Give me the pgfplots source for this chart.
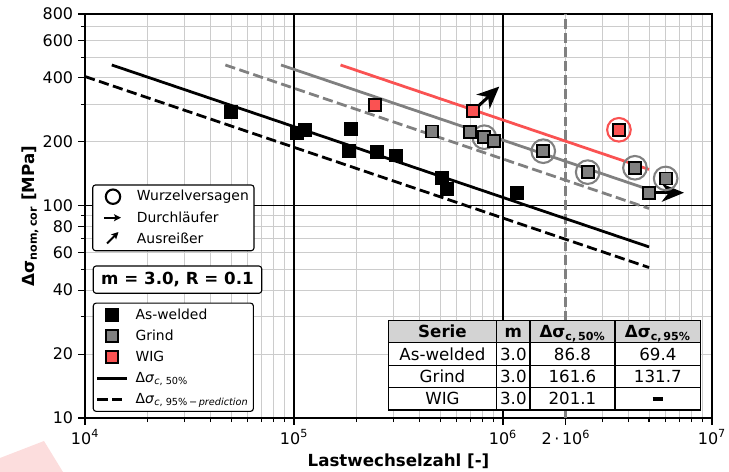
\documentclass[border=0pt]{standalone}
\usepackage{fontspec}
\setmainfont{DejaVu Sans}
\usepackage{pgfplots}
\pgfplotsset{compat=1.18}
\usetikzlibrary{arrows.meta}
\definecolor{gridgray}{RGB}{204,204,204}
\definecolor{lgray}{RGB}{128,128,128}
\definecolor{wigred}{RGB}{250,82,82}
\definecolor{hdr}{RGB}{211,211,211}
\definecolor{pinkwm}{RGB}{252,221,221}
\begin{document}
\begin{tikzpicture}
\begin{scope}[x=0.72pt,y=-0.72pt,shift={(-61.2pt,300.96pt)}]
\fill[pinkwm] (0,458) -- (44,441) -- (63,472) -- (0,472) -- cycle;
\end{scope}
\begin{axis}[
  scale only axis, width=451.4pt, height=290.9pt,
  xmode=log, ymode=log, xmin=1e4, xmax=1e7, ymin=10, ymax=800,
  axis line style={line width=0.8pt},
  xtick={1e4,1e5,1e6,2e6,1e7},
  xticklabels={10\textsuperscript{4},10\textsuperscript{5},10\textsuperscript{6},2\,·\,10\textsuperscript{6},10\textsuperscript{7}},
  minor xtick={2e4,3e4,4e4,5e4,6e4,7e4,8e4,9e4,2e5,3e5,4e5,5e5,6e5,7e5,8e5,9e5,3e6,4e6,5e6,6e6,7e6,8e6,9e6},
  ytick={10,20,40,60,80,100,200,400,600,800},
  yticklabels={10,20,40,60,80,100,200,400,600,800},
  minor ytick={30,50,70,90,300,500,700},
  grid=both,
  major grid style={gridgray, line width=0.7pt},
  minor grid style={gridgray, line width=0.7pt},
  extra x ticks={1e5,1e6}, extra x tick labels={},
  extra x tick style={grid=major, major grid style={black, line width=0.8pt}},
  extra y ticks={100}, extra y tick labels={},
  extra y tick style={grid=major, major grid style={black, line width=0.8pt}},
  tick align=outside, xtick pos=bottom, ytick pos=left,
  major tick length=5pt, minor tick length=3pt,
  every tick/.style={black, line width=0.8pt},
  tick label style={font=\fontsize{11.5}{13}\selectfont},
  xlabel={\textbf{Lastwechselzahl [-]}},
  ylabel={\textbf{Δσ\textsubscript{nom,\,cor} [MPa]}},
  xlabel style={at={(axis description cs:0.5,-0.107)}, anchor=center, font=\fontsize{12}{14}\selectfont},
  ylabel style={at={(axis description cs:-0.0877,0.5)}, anchor=center, font=\fontsize{12}{14}\selectfont},
  legend image code/.code={\draw[mark repeat=2,mark phase=2,#1] plot coordinates {(0pt,0pt)(10.5pt,0pt)(21pt,0pt)};},
  legend cell align=left,
  legend style={at={(axis description cs:0.0123,0.2856)}, anchor=north west,
    draw=black, line width=0.8pt, rounded corners=2pt, fill=white,
    font=\fontsize{10}{12}\selectfont, inner xsep=2pt, inner ysep=2pt,
    nodes={inner sep=1.5pt, text height=8pt, text depth=2.5pt},
    column sep=4pt, row sep=1.6pt},
]
% vertical dashed line at 2e6
\addplot[lgray, line width=2.1pt, dash pattern=on 7pt off 3pt, forget plot] coordinates {(2e6,10) (2e6,800)};
% S-N lines
\addplot[black, line width=2pt, forget plot] coordinates {(13438,460) (5e6,63.96)};
\addplot[black, line width=2pt, dash pattern=on 7.4pt off 3.2pt, forget plot] coordinates {(1e4,405.9) (5e6,51.13)};
\addplot[lgray, line width=2pt, forget plot] coordinates {(86716,460) (5e6,119.07)};
\addplot[lgray, line width=2pt, dash pattern=on 7.4pt off 3.2pt, forget plot] coordinates {(46940,460) (5e6,97.04)};
\addplot[wigred, line width=2pt, forget plot] coordinates {(167100,460) (5e6,148.17)};
% annotations
\draw[black, line width=2.2pt, -{Stealth[length=16pt,width=14pt,inset=5pt]}] (axis cs:7.21e5,279.8) -- (axis cs:9.6e5,364);
\draw[black, line width=2.2pt, -{Stealth[length=16pt,width=13pt,inset=5pt]}] (axis cs:4.995e6,115.1) -- (axis cs:7.35e6,115.1);
% root failure circles
\addplot[only marks, mark=o, mark size=8.5pt, mark options={lgray, line width=1.5pt}, forget plot] coordinates {
(8.14e5,210.2) (1.559e6,180.6) (2.543e6,143.9) (4.281e6,150.9) (6.005e6,134.4)};
\addplot[only marks, mark=o, mark size=8.5pt, mark options={wigred, line width=1.5pt}, forget plot] coordinates {(3.589e6,227.8)};
% data
\addplot[only marks, mark=square*, mark size=4.3pt, mark options={draw=black, fill=black, line width=1.3pt}] coordinates {
(4.98e4,276.7) (1.037e5,220.5) (1.132e5,226.8) (1.868e5,230.3) (1.833e5,180.6) (2.487e5,178.7) (3.076e5,172.4) (5.09e5,135.4) (5.415e5,120.2) (1.171e6,115.1)};
\addlegendentry{As-welded}
\addplot[only marks, mark=square*, mark size=4.3pt, mark options={draw=black, fill=lgray, line width=1.3pt}] coordinates {
(4.589e5,223.6) (6.952e5,221.9) (8.14e5,210.2) (9.06e5,201.3) (1.559e6,180.6) (2.543e6,143.9) (4.281e6,150.9) (6.005e6,134.4) (4.995e6,115.1)};
\addlegendentry{Grind}
\addplot[only marks, mark=square*, mark size=4.3pt, mark options={draw=black, fill=wigred, line width=1.3pt}] coordinates {
(2.441e5,297.4) (7.21e5,279.8) (3.589e6,227.8)};
\addlegendentry{WIG}
\addlegendimage{black, line width=2pt}
\addlegendentry{Δ\textit{σ}\textsubscript{\textit{c}, 50\%}}
\addlegendimage{black, line width=2pt, dash pattern=on 7.4pt off 3.2pt}
\addlegendentry{Δ\textit{σ}\textsubscript{\textit{c}, 95\%\,−\,\textit{prediction}}}
\end{axis}
\begin{scope}[x=0.72pt,y=-0.72pt,shift={(-61.2pt,300.96pt)}]
% legend box 1
\draw[black, line width=0.8pt, fill=white, rounded corners=2pt] (92.7,185) rectangle (254,250.7);
\draw[black, line width=1.5pt] (113,196.7) circle[radius=7.2];
\draw[black, line width=1.4pt, -{Stealth[length=5pt,width=5pt,inset=1pt]}] (104,217.7) -- (121,217.7);
\draw[black, line width=1.4pt, -{Stealth[length=5pt,width=5pt,inset=1pt]}] (107,243.5) -- (118.5,232);
\node[anchor=west, font=\fontsize{10}{12}\selectfont, inner sep=0pt] at (136.7,196.7) {Wurzelversagen};
\node[anchor=west, font=\fontsize{10}{12}\selectfont, inner sep=0pt] at (136.7,217.7) {Durchläufer};
\node[anchor=west, font=\fontsize{10}{12}\selectfont, inner sep=0pt] at (136.7,238.3) {Ausreißer};
% box 2
\draw[black, line width=0.8pt, fill=white, rounded corners=2pt] (93.3,266) rectangle (261.7,293.3);
\node[font=\fontsize{12}{14}\selectfont\bfseries] at (177.5,279.65) {m = 3.0, R = 0.1};
% table
\fill[white] (388.3,320.7) rectangle (700.7,410);
\fill[hdr] (388.3,320.7) rectangle (700.7,342.7);
\draw[black, line width=1.1pt] (388.3,320.7) rectangle (700.7,410);
\foreach \yy in {342.7,365.7,387.7} {\draw[black, line width=1.1pt] (388.3,\yy) -- (700.7,\yy);}
\foreach \xx in {496.7,530,615} {\draw[black, line width=1.1pt] (\xx,320.7) -- (\xx,410);}
\begin{scope}[every node/.style={font=\fontsize{12}{14}\selectfont, text height=8.75pt, text depth=0pt, inner sep=0pt, anchor=center}]
\node at (442.5,331.7) {\textbf{Serie}};
\node at (513.35,331.7) {\textbf{m}};
\node at (572.5,331.7) {\textbf{Δσ\textsubscript{c,\,50\%}}};
\node at (657.85,331.7) {\textbf{Δσ\textsubscript{c,\,95\%}}};
\node at (442.5,354.2) {As-welded};
\node at (513.35,354.2) {3.0};
\node at (572.5,354.2) {86.8};
\node at (657.85,354.2) {69.4};
\node at (442.5,376.7) {Grind};
\node at (513.35,376.7) {3.0};
\node at (572.5,376.7) {161.6};
\node at (657.85,376.7) {131.7};
\node at (442.5,398.85) {WIG};
\node at (513.35,398.85) {3.0};
\node at (572.5,398.85) {201.1};
\node at (657.85,398.85) {\rule[3pt]{7.7pt}{2.6pt}};
\end{scope}
\pgfresetboundingbox
\path (0,0) rectangle (729,472);
\end{scope}
\end{tikzpicture}
\end{document}
